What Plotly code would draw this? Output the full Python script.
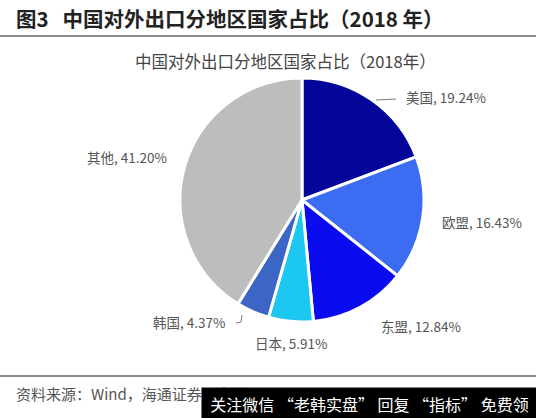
import plotly.graph_objects as go

# ---- data ----
regions = ["美国", "欧盟", "东盟", "日本", "韩国", "其他"]
shares = [19.24, 16.43, 12.84, 5.91, 4.37, 41.20]
colors = ["#05059A", "#3C6CF2", "#0B0BF0", "#1CC8F2", "#3B66C6", "#BDBDBD"]

title_text = "图3\u00a0\u00a0\u00a0中国对外出口分地区国家占比（2018 年）"
subtitle_text = "中国对外出口分地区国家占比（2018年）"
source_text = "资料来源：Wind，海通证券研究所"
watermark_text = "关注微信 “老韩实盘” 回复 “指标” 免费领"

W, H = 536, 418
FONT = "Noto Sans CJK SC"

def px(x):
    return x / W

def py(y):
    return 1 - y / H

# pie geometry (pixels)
cx, cy, r = 302, 200, 122

fig = go.Figure(go.Pie(
    labels=regions,
    values=shares,
    sort=False,
    direction="clockwise",
    rotation=0,
    marker=dict(colors=colors, line=dict(color="white", width=3)),
    textinfo="none",
    hoverinfo="label+percent",
    domain=dict(x=[px(cx - r), px(cx + r)], y=[py(cy + r), py(cy - r)]),
    showlegend=False,
))

# label placement (pixel centres)
label_pos = [(446, 97), (482, 222), (421, 326), (291, 343), (189, 322), (127, 157)]

annotations = []
for name, v, (lx, ly) in zip(regions, shares, label_pos):
    annotations.append(dict(
        x=px(lx), y=py(ly), xref="paper", yref="paper",
        text=f"{name}, {v:.2f}%", showarrow=False,
        font=dict(family=FONT, size=13.5, color="#555555"),
        xanchor="center", yanchor="middle",
    ))

annotations.append(dict(
    x=px(14), y=py(18), xref="paper", yref="paper", text=f"<b>{title_text}</b>",
    showarrow=False, xanchor="left", yanchor="middle",
    font=dict(family=FONT, size=20.5, color="#222222"),
))
annotations.append(dict(
    x=px(285), y=py(61), xref="paper", yref="paper", text=subtitle_text,
    showarrow=False, xanchor="center", yanchor="middle",
    font=dict(family=FONT, size=16.5, color="#444444"),
))
annotations.append(dict(
    x=px(14), y=py(393), xref="paper", yref="paper", text=source_text,
    showarrow=False, xanchor="left", yanchor="middle",
    font=dict(family=FONT, size=15, color="#555555"),
))
annotations.append(dict(
    x=px(201), y=py(387), xref="paper", yref="paper", text=watermark_text,
    showarrow=False, xanchor="left", yanchor="top", align="center",
    width=335, height=31, bgcolor="black", borderpad=0,
    font=dict(family=FONT, size=16, color="white"),
))

shapes = [
    dict(type="line", xref="paper", yref="paper", x0=0, x1=1, y0=py(36), y1=py(36),
         line=dict(color="#8A8A8A", width=2)),
    dict(type="line", xref="paper", yref="paper", x0=0, x1=1, y0=py(376), y1=py(376),
         line=dict(color="#8A8A8A", width=2)),
    # leader lines
    dict(type="line", xref="paper", yref="paper", x0=px(376), x1=px(396), y0=py(100), y1=py(99),
         line=dict(color="#777777", width=1)),
    dict(type="path", xref="paper", yref="paper",
         path=f"M {px(236)},{py(323)} L {px(241)},{py(322)} L {px(242)},{py(315)}",
         line=dict(color="#777777", width=1)),
]

fig.update_layout(
    width=W, height=H, autosize=False,
    margin=dict(l=0, r=0, t=0, b=0),
    paper_bgcolor="white", plot_bgcolor="white",
    annotations=annotations, shapes=shapes,
)

fig.write_html(
    "out.html",
    config={"displayModeBar": False},
    post_script="document.body.style.margin='0px';document.body.style.overflow='hidden';",
)
